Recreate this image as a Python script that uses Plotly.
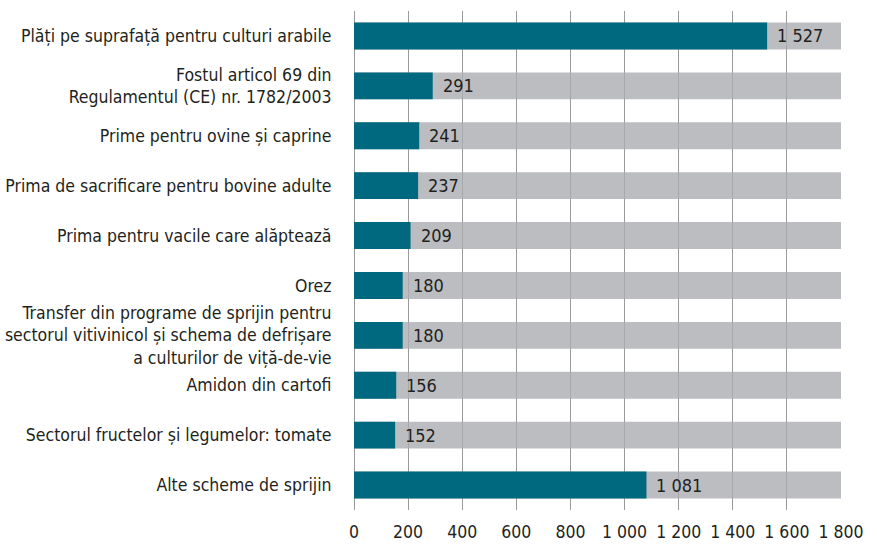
import plotly.graph_objects as go

categories = [
    "Plăți pe suprafață pentru culturi arabile",
    "Fostul articol 69 din<br>Regulamentul (CE) nr. 1782/2003",
    "Prime pentru ovine și caprine",
    "Prima de sacrificare pentru bovine adulte",
    "Prima pentru vacile care alăptează",
    "Orez",
    "Transfer din programe de sprijin pentru<br>sectorul vitivinicol și schema de defrișare<br>a culturilor de viță-de-vie",
    "Amidon din cartofi",
    "Sectorul fructelor și legumelor: tomate",
    "Alte scheme de sprijin",
]
values = [1527, 291, 241, 237, 209, 180, 180, 156, 152, 1081]
axis_max = 1800
tick_vals = [0, 200, 400, 600, 800, 1000, 1200, 1400, 1600, 1800]
background = [axis_max] * len(categories)

FONT = "DejaVu Sans Condensed, Liberation Sans Narrow, sans-serif"
TXT = "#231f20"

fig = go.Figure()
fig.add_trace(go.Bar(
    y=categories, x=background, orientation="h",
    marker=dict(color="rgba(171,172,178,0.8)", line=dict(width=0)),
    width=0.54, hoverinfo="skip", showlegend=False,
))
fig.add_trace(go.Bar(
    y=categories, x=values, orientation="h",
    marker=dict(color="#00697f", line=dict(width=0)),
    width=0.54, showlegend=False,
))

for c, v in zip(categories, values):
    fig.add_annotation(
        x=v, y=c, text=f"{v:,}".replace(",", " "), showarrow=False,
        xanchor="left", xshift=8, yshift=0,
        font=dict(family=FONT, size=18, color=TXT),
    )

fig.update_layout(
    width=877, height=550,
    margin=dict(l=354, r=36, t=11, b=40),
    barmode="overlay",
    plot_bgcolor="white", paper_bgcolor="white",
    separators=", ",
    font=dict(family=FONT, size=17, color=TXT),
    xaxis=dict(
        range=[0, axis_max], tickvals=tick_vals, separatethousands=True,
        showgrid=True, gridcolor="#9a9a9a", gridwidth=1.3,
        zeroline=True, zerolinecolor="#9a9a9a", zerolinewidth=1.3,
        ticks="outside", ticklen=6, tickcolor="rgba(0,0,0,0)", showline=False,
        tickfont=dict(family=FONT, size=17.5, color=TXT),
        fixedrange=True, automargin=False,
    ),
    yaxis=dict(
        autorange="reversed", showgrid=False, showline=False, zeroline=False,
        ticks="outside", ticklen=18, tickcolor="rgba(0,0,0,0)",
        tickfont=dict(family=FONT, size=17.5, color=TXT),
        automargin=False,
    ),
)

fig.write_html("out.html")
